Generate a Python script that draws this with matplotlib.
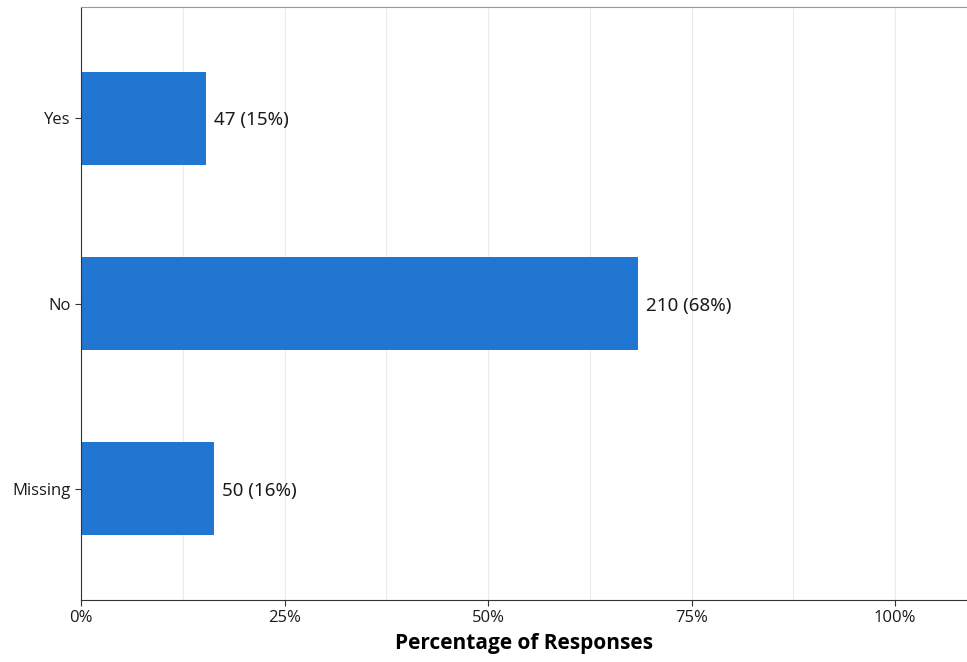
import matplotlib
matplotlib.use("Agg")
import matplotlib.pyplot as plt
from matplotlib.ticker import FuncFormatter, MultipleLocator

# data
categories = ["Yes", "No", "Missing"]
counts = [47, 210, 50]
total = sum(counts)
percents = [c / total * 100 for c in counts]

bar_color = "#2176d2"

plt.rcParams['font.family'] = ['Open Sans', 'DejaVu Sans']

fig = plt.figure(figsize=(9.67, 6.62), dpi=100)
# axes run past the right edge of the figure, like in the reference
ax = fig.add_axes([81 / 967, 62 / 662, 886 / 967, 593 / 662])

ypos = list(range(len(categories)))[::-1]
ax.barh(ypos, percents, height=0.5, color=bar_color, zorder=2)

for y, c, p in zip(ypos, counts, percents):
    ax.text(p + 1.0, y, f"{c} ({p:.0f}%)", va="center_baseline", ha="left",
            fontsize=13.5, family=['Noto Sans', 'DejaVu Sans'], color="#1a1a1a")

ax.set_yticks(ypos)
ax.set_yticklabels(categories)
ax.set_ylim(-0.6, 2.6)
ax.set_xlim(0, 886 / 8.14)

ax.xaxis.set_major_locator(MultipleLocator(25))
ax.xaxis.set_minor_locator(MultipleLocator(12.5))
ax.xaxis.set_major_formatter(FuncFormatter(lambda v, pos: f"{v:.0f}%"))
ax.grid(axis="x", which="both", color="#ebebeb", linewidth=0.8, zorder=0)
ax.tick_params(axis="both", labelsize=12, colors="#333333", length=4, width=0.8)
ax.tick_params(axis="x", which="minor", length=0)
for lab in ax.get_xticklabels() + ax.get_yticklabels():
    lab.set_color("#1a1a1a")

ax.spines["right"].set_visible(False)
ax.spines["top"].set_color("#999999")
ax.spines["left"].set_color("#333333")
ax.spines["bottom"].set_color("#333333")

ax.set_xlabel("Percentage of Responses", fontsize=15, fontweight="bold", labelpad=5)

fig.savefig("out.png", dpi=100)
